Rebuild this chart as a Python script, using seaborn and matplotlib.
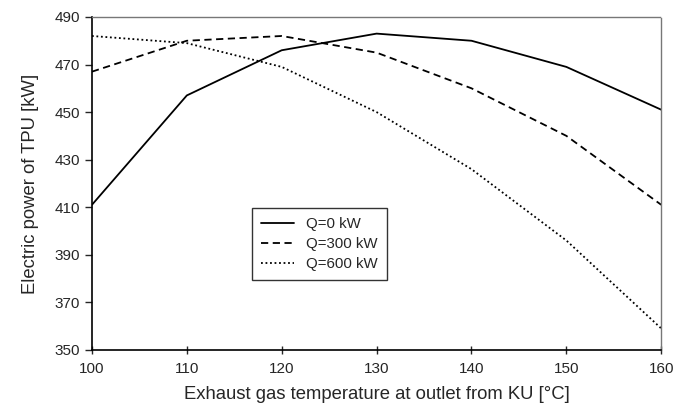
import pandas as pd
import seaborn as sns
import matplotlib.pyplot as plt

# valores
temperatura = [100, 110, 120, 130, 140, 150, 160]
q0 = [411, 457, 476, 483, 480, 469, 451]
q300 = [467, 480, 482, 475, 460, 440, 411]
q600 = [482, 479, 469, 450, 426, 396, 359]
series = ["Q=0 kW", "Q=300 kW", "Q=600 kW"]

df = pd.DataFrame({
    "T": temperatura * 3,
    "P": q0 + q300 + q600,
    "Q": [s for s in series for _ in temperatura],
})

sns.set_style("white")
plt.rcParams["font.family"] = ["Liberation Sans", "DejaVu Sans"]

fig = plt.figure(figsize=(6.81, 4.04), dpi=100)
ax = fig.add_axes([0.135, 0.134, 0.836, 0.824])

estilos = {"Q=0 kW": "-", "Q=300 kW": (0, (4, 2.5)), "Q=600 kW": (0, (1, 1.5))}
for s in series:
    sub = df[df["Q"] == s]
    sns.lineplot(data=sub, x="T", y="P", ax=ax, color="black",
                 linewidth=1.3, linestyle=estilos[s], label=s)

ax.set_xlim(100, 160)
ax.set_ylim(350, 490)
ax.set_xticks(range(100, 161, 10))
ax.set_yticks(range(350, 491, 20))
ax.tick_params(axis="y", direction="out", length=5, width=1, labelsize=11, left=True)
ax.tick_params(axis="x", direction="inout", length=6, width=1, labelsize=11,
               bottom=True, pad=6)

for lado in ["left", "bottom"]:
    ax.spines[lado].set_color("black")
    ax.spines[lado].set_linewidth(1.2)
for lado in ["top", "right"]:
    ax.spines[lado].set_color("#777777")
    ax.spines[lado].set_linewidth(1)
    ax.spines[lado].set_linestyle((0, (1, 1)))

ax.set_xlabel("Exhaust gas temperature at outlet from KU [°C]", fontsize=13.3, labelpad=7)
ax.set_ylabel("Electric power of TPU [kW]", fontsize=13.3, labelpad=11)

leg = ax.legend(loc="lower left", bbox_to_anchor=(0.281, 0.21), fontsize=10.8,
                frameon=True, fancybox=False, edgecolor="black", handlelength=2.2,
                borderpad=0.6, labelspacing=0.4, borderaxespad=0)
leg.get_frame().set_linewidth(1)

plt.savefig("out.png", dpi=100)
